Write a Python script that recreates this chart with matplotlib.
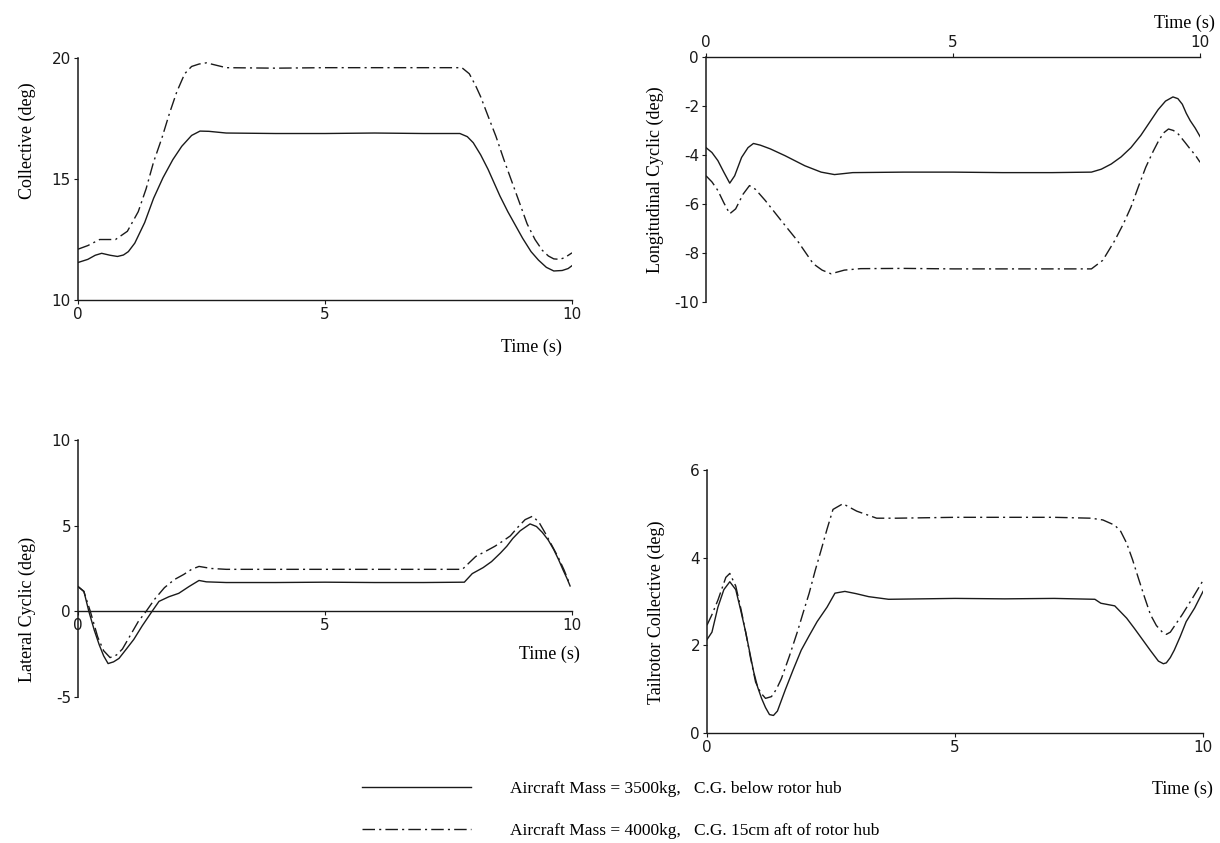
import matplotlib
matplotlib.use("Agg")
import matplotlib.pyplot as plt

plt.rcParams["axes.unicode_minus"] = False

# ---- data (time in s, angle in deg) ----
coll_a_t = [0, 0.2, 0.35, 0.48, 0.65, 0.8, 0.92, 1.02, 1.15, 1.35, 1.53, 1.72, 1.92, 2.1, 2.3,
            2.47, 2.65, 3.0, 4.0, 5.0, 6.0, 7.0, 7.73, 7.88, 8.0, 8.15, 8.3, 8.54, 8.7, 8.85,
            9.0, 9.17, 9.32, 9.48, 9.63, 9.8, 9.92, 10.0]
coll_a_v = [11.55, 11.68, 11.85, 11.93, 11.85, 11.8, 11.86, 12.0, 12.35, 13.2, 14.2, 15.05, 15.8,
            16.35, 16.8, 16.98, 16.97, 16.9, 16.88, 16.88, 16.9, 16.88, 16.88, 16.75, 16.5,
            16.0, 15.4, 14.3, 13.65, 13.1, 12.55, 12.0, 11.65, 11.35, 11.2, 11.22, 11.3, 11.42]
coll_b_t = [0, 0.2, 0.44, 0.76, 1.0, 1.22, 1.38, 1.53, 1.7, 1.85, 2.0, 2.16, 2.3, 2.45, 2.6,
            2.8, 3.0, 4.0, 5.0, 6.0, 7.0, 7.77, 7.92, 8.05, 8.15, 8.3, 8.46, 8.62, 8.78,
            8.94, 9.09, 9.25, 9.4, 9.52, 9.63, 9.75, 9.85, 10.0]
coll_b_v = [12.1, 12.25, 12.5, 12.5, 12.84, 13.65, 14.6, 15.7, 16.7, 17.7, 18.6, 19.35, 19.65,
            19.75, 19.8, 19.7, 19.6, 19.58, 19.6, 19.6, 19.6, 19.6, 19.35, 18.85, 18.4, 17.6,
            16.76, 15.8, 14.9, 14.0, 13.15, 12.5, 12.05, 11.82, 11.7, 11.68, 11.75, 11.95]

lon_a_t = [0, 0.12, 0.24, 0.36, 0.48, 0.58, 0.72, 0.85, 0.96, 1.1, 1.3, 1.6, 2.0, 2.33, 2.6,
           2.97, 4.0, 5.0, 6.0, 7.0, 7.8, 8.0, 8.2, 8.4, 8.6, 8.8, 9.0, 9.15, 9.3, 9.45,
           9.55, 9.64, 9.72, 9.8, 9.9, 10.0]
lon_a_v = [-3.7, -3.9, -4.23, -4.7, -5.15, -4.85, -4.1, -3.7, -3.53, -3.6, -3.75, -4.03, -4.44,
           -4.7, -4.8, -4.72, -4.7, -4.7, -4.72, -4.72, -4.7, -4.58, -4.37, -4.08, -3.7, -3.2,
           -2.6, -2.15, -1.8, -1.63, -1.7, -1.93, -2.3, -2.6, -2.9, -3.25]
lon_b_t = [0, 0.12, 0.24, 0.36, 0.48, 0.6, 0.75, 0.88, 1.0, 1.2, 1.53, 1.85, 2.17, 2.35, 2.53,
           2.8, 3.13, 4.0, 5.0, 6.0, 7.0, 7.8, 8.03, 8.27, 8.45, 8.6, 8.75, 8.9, 9.05, 9.16,
           9.26, 9.36, 9.46, 9.56, 9.7, 9.8, 9.9, 10.0]
lon_b_v = [-4.85, -5.1, -5.45, -5.95, -6.4, -6.2, -5.6, -5.25, -5.4, -5.86, -6.7, -7.5, -8.44,
           -8.7, -8.85, -8.7, -8.64, -8.63, -8.65, -8.65, -8.65, -8.65, -8.3, -7.5, -6.8, -6.13,
           -5.3, -4.5, -3.85, -3.42, -3.1, -2.94, -3.0, -3.15, -3.5, -3.76, -4.0, -4.3]

lat_a_t = [0, 0.12, 0.22, 0.33, 0.43, 0.52, 0.61, 0.72, 0.83, 0.98, 1.13, 1.3, 1.5, 1.64, 1.84,
           2.04, 2.25, 2.45, 2.6, 3.0, 4.0, 5.0, 6.0, 7.0, 7.82, 7.98, 8.2, 8.37, 8.55, 8.68,
           8.8, 8.95, 9.15, 9.28, 9.4, 9.52, 9.63, 9.73, 9.82, 9.9, 9.96]
lat_a_v = [1.45, 1.17, 0.0, -1.1, -1.95, -2.6, -3.05, -2.95, -2.75, -2.2, -1.64, -0.85, 0.0,
           0.58, 0.85, 1.05, 1.45, 1.8, 1.72, 1.68, 1.68, 1.7, 1.68, 1.68, 1.7, 2.2, 2.55, 2.9,
           3.4, 3.8, 4.25, 4.7, 5.1, 4.95, 4.6, 4.15, 3.6, 3.0, 2.4, 1.9, 1.48]
lat_b_t = [0, 0.12, 0.25, 0.4, 0.52, 0.65, 0.78, 0.9, 1.07, 1.22, 1.38, 1.55, 1.75, 1.95, 2.14,
           2.3, 2.45, 2.7, 3.0, 4.0, 5.0, 6.0, 7.0, 7.78, 8.05, 8.25, 8.44, 8.6, 8.75, 8.9,
           9.05, 9.2, 9.33, 9.46, 9.6, 9.72, 9.84, 9.95]
lat_b_v = [1.45, 1.15, 0.0, -1.5, -2.3, -2.7, -2.55, -2.2, -1.35, -0.6, 0.0, 0.7, 1.38, 1.85,
           2.15, 2.45, 2.62, 2.5, 2.45, 2.45, 2.45, 2.45, 2.45, 2.45, 3.2, 3.5, 3.8, 4.1, 4.4,
           4.9, 5.35, 5.55, 5.2, 4.55, 3.8, 3.15, 2.4, 1.6]

tr_a_t = [0, 0.1, 0.22, 0.34, 0.46, 0.58, 0.68, 0.78, 0.86, 0.94, 1.02, 1.1, 1.18, 1.26, 1.34,
          1.42, 1.58, 1.74, 1.9, 2.06, 2.22, 2.42, 2.58, 2.78, 3.0, 3.26, 3.66, 5.0, 6.0, 7.0,
          7.82, 7.94, 8.22, 8.46, 8.62, 8.78, 8.94, 9.1, 9.2, 9.26, 9.34, 9.42, 9.54, 9.66,
          9.83, 10.0]
tr_a_v = [2.13, 2.3, 2.87, 3.27, 3.45, 3.27, 2.8, 2.3, 1.85, 1.4, 1.05, 0.79, 0.58, 0.42, 0.4,
          0.5, 0.99, 1.45, 1.89, 2.22, 2.54, 2.87, 3.19, 3.23, 3.18, 3.11, 3.05, 3.07, 3.06,
          3.07, 3.05, 2.96, 2.9, 2.62, 2.38, 2.13, 1.88, 1.64, 1.58, 1.6, 1.72, 1.89, 2.2,
          2.54, 2.85, 3.23]
tr_b_t = [0, 0.1, 0.22, 0.38, 0.46, 0.58, 0.68, 0.78, 0.88, 0.98, 1.08, 1.18, 1.3, 1.4, 1.5,
          1.66, 1.82, 1.94, 2.06, 2.18, 2.3, 2.42, 2.54, 2.74, 3.02, 3.42, 3.82, 5.0, 6.0,
          7.0, 7.74, 7.98, 8.22, 8.34, 8.46, 8.58, 8.7, 8.82, 8.94, 9.06, 9.18, 9.26, 9.34,
          9.46, 9.58, 9.8, 10.0]
tr_b_v = [2.46, 2.7, 3.03, 3.55, 3.64, 3.35, 2.85, 2.3, 1.7, 1.16, 0.92, 0.79, 0.83, 1.0, 1.24,
          1.75, 2.3, 2.75, 3.19, 3.7, 4.17, 4.65, 5.1, 5.23, 5.06, 4.9, 4.9, 4.92, 4.92, 4.92,
          4.9, 4.86, 4.74, 4.6, 4.33, 3.95, 3.52, 3.1, 2.7, 2.45, 2.3, 2.25, 2.3, 2.5, 2.7,
          3.1, 3.48]

labels = ["Aircraft Mass = 3500kg,   C.G. below rotor hub",
          "Aircraft Mass = 4000kg,   C.G. 15cm aft of rotor hub"]

INK = "#1a1a1a"
SERIF = "Liberation Serif"
DASHDOT = (0, (9, 3, 1.5, 3))
LW = 1.0


def style_axes(ax, spine):
    for s in ["left", "right", "top", "bottom"]:
        ax.spines[s].set_visible(False)
    ax.spines["left"].set_visible(True)
    ax.spines["left"].set_linewidth(1.1)
    ax.spines["left"].set_color(INK)
    ax.spines[spine].set_visible(True)
    ax.spines[spine].set_linewidth(1.0)
    ax.spines[spine].set_color(INK)
    ax.tick_params(axis="both", direction="out", length=3, width=0.8, colors=INK,
                   labelsize=11, pad=2)
    ax.set_xlim(0, 10)
    ax.set_xticks([0, 5, 10])
    ax.patch.set_visible(False)


fig = plt.figure(figsize=(12.2, 8.43), dpi=100)

ax1 = fig.add_axes([0.0639, 0.6441, 0.405, 0.2871])
ax2 = fig.add_axes([0.5787, 0.6418, 0.405, 0.2906])
ax3 = fig.add_axes([0.0639, 0.1732, 0.405, 0.3049])
ax4 = fig.add_axes([0.5795, 0.1305, 0.4066, 0.3120])

# Collective
l1, = ax1.plot(coll_a_t, coll_a_v, color=INK, lw=LW)
l2, = ax1.plot(coll_b_t, coll_b_v, color=INK, lw=LW, linestyle=DASHDOT)
style_axes(ax1, "bottom")
ax1.set_ylim(10, 20)
ax1.set_yticks([10, 15, 20])
ax1.set_ylabel("Collective (deg)", family=SERIF, fontsize=13)
ax1.yaxis.set_label_coords(-0.085, 0.66)
ax1.set_xlabel("Time (s)", family=SERIF, fontsize=13, ha="right")
ax1.xaxis.set_label_coords(0.98, -0.16)

# Longitudinal cyclic, time axis on top
ax2.plot(lon_a_t, lon_a_v, color=INK, lw=LW)
ax2.plot(lon_b_t, lon_b_v, color=INK, lw=LW, linestyle=DASHDOT)
style_axes(ax2, "top")
ax2.xaxis.tick_top()
ax2.xaxis.set_label_position("top")
ax2.set_ylim(-10, 0)
ax2.set_yticks([-10, -8, -6, -4, -2, 0])
ax2.set_ylabel("Longitudinal Cyclic (deg)", family=SERIF, fontsize=13)
ax2.yaxis.set_label_coords(-0.085, 0.5)
ax2.set_xlabel("Time (s)", family=SERIF, fontsize=13, ha="right")
ax2.xaxis.set_label_coords(1.03, 1.12)

# Lateral cyclic, time axis through zero
ax3.plot(lat_a_t, lat_a_v, color=INK, lw=LW)
ax3.plot(lat_b_t, lat_b_v, color=INK, lw=LW, linestyle=DASHDOT)
style_axes(ax3, "bottom")
ax3.spines["bottom"].set_position(("data", 0))
ax3.set_ylim(-5, 10)
ax3.set_yticks([-5, 0, 5, 10])
ax3.set_ylabel("Lateral Cyclic (deg)", family=SERIF, fontsize=13)
ax3.yaxis.set_label_coords(-0.085, 0.34)
ax3.set_xlabel("Time (s)", family=SERIF, fontsize=13, ha="right")
ax3.xaxis.set_label_coords(1.016, 0.20)

# Tailrotor collective
ax4.plot(tr_a_t, tr_a_v, color=INK, lw=LW)
ax4.plot(tr_b_t, tr_b_v, color=INK, lw=LW, linestyle=DASHDOT)
style_axes(ax4, "bottom")
ax4.set_ylim(0, 6)
ax4.set_yticks([0, 2, 4, 6])
ax4.set_ylabel("Tailrotor Collective (deg)", family=SERIF, fontsize=13)
ax4.yaxis.set_label_coords(-0.085, 0.46)
ax4.set_xlabel("Time (s)", family=SERIF, fontsize=13, ha="right")
ax4.xaxis.set_label_coords(1.02, -0.18)

fig.legend([l1, l2], labels, loc="upper left", bbox_to_anchor=(0.284, 0.092),
           frameon=False, handlelength=6.3, handletextpad=2.2, labelspacing=1.5,
           prop={"family": SERIF, "size": 12.5})

fig.savefig("out.png", dpi=100)
